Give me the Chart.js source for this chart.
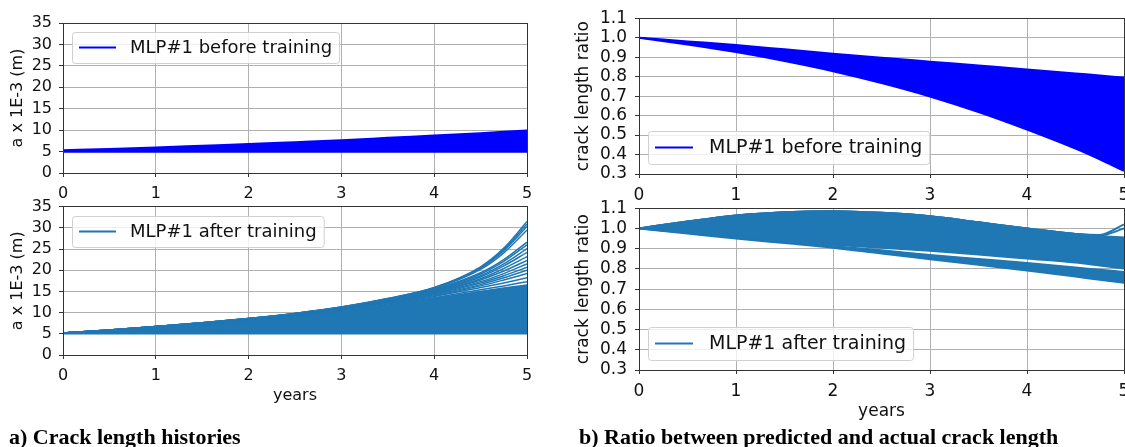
<!DOCTYPE html>
<html>
<head>
<meta charset="utf-8">
<script src="https://cdn.jsdelivr.net/npm/chart.js@4.4.1/dist/chart.umd.min.js"></script>
<style>
  html, body { margin:0; padding:0; background:#fff; width:1125px; height:447px; overflow:hidden; position:relative; }
  canvas { position:absolute; }
  .cap { position:absolute; font:bold 22px "Liberation Serif", "Times New Roman", serif; line-height:22px; white-space:nowrap; color:#000; }
</style>
</head>
<body>
<canvas id="lt" width="545" height="210" style="left:0;top:0"></canvas>
<canvas id="lb" width="545" height="230" style="left:0;top:190px"></canvas>
<canvas id="rt" width="575" height="210" style="left:565px;top:0"></canvas>
<canvas id="rb" width="575" height="240" style="left:565px;top:190px"></canvas>
<div class="cap" style="left:9px;top:426px">a) Crack length histories</div>
<div class="cap" style="left:579px;top:426px">b) Ratio between predicted and actual crack length</div>

<script>
// 時間軸と目盛
const years       = [0, 0.5, 1, 1.5, 2, 2.5, 3, 3.5, 4, 4.5, 4.75, 5];
const yearTicks   = [0, 1, 2, 3, 4, 5];
const lengthTicks = [0, 5, 10, 15, 20, 25, 30, 35];
const ratioTicks  = [0.3, 0.4, 0.5, 0.6, 0.7, 0.8, 0.9, 1.0, 1.1];

const BLUE = '#0000ff';
const TAB_BLUE = '#1f77b4';
const labelBefore = 'MLP#1 before training';
const labelAfter  = 'MLP#1 after training';

// a) crack length, before training (band edges)
const lenBeforeUpper = [5.3, 5.6, 5.95, 6.35, 6.75, 7.2, 7.65, 8.2, 8.75, 9.3, 9.6, 9.9];
const lenBeforeLower = [4.95, 4.95, 4.95, 4.95, 4.95, 4.95, 4.95, 4.95, 4.95, 4.95, 4.95, 4.95];

// a) crack length, after training
const lenAfterFillTop = [5.2, 5.7, 6.4, 7.2, 8.0, 9.0, 10.2, 11.6, 13.3, 15.0, 15.8, 16.5];
const lenAfterLower   = [5.1, 5.1, 5.1, 5.1, 5.1, 5.1, 5.1, 5.1, 5.1, 5.1, 5.1, 5.1];
const lenAfterCurves = [
  [5.2, 5.9, 6.7, 7.6, 8.6, 9.8, 11.3, 13.3, 15.9, 20.8, 25.2, 31.5],
  [5.2, 5.9, 6.7, 7.6, 8.6, 9.8, 11.3, 13.3, 15.85, 20.6, 24.9, 30.9],
  [5.2, 5.9, 6.7, 7.6, 8.6, 9.8, 11.3, 13.2, 15.8, 20.5, 24.6, 30.3],
  [5.2, 5.9, 6.7, 7.6, 8.6, 9.8, 11.2, 13.2, 15.7, 20.2, 24.1, 29.5],
  [5.2, 5.9, 6.7, 7.6, 8.6, 9.7, 11.2, 13.1, 15.5, 19.4, 22.5, 26.6],
  [5.2, 5.9, 6.7, 7.5, 8.5, 9.7, 11.1, 13.0, 15.3, 19.1, 22.1, 26.0],
  [5.2, 5.9, 6.7, 7.5, 8.5, 9.6, 11.0, 12.9, 15.15, 18.7, 21.5, 25.1],
  [5.2, 5.8, 6.6, 7.5, 8.5, 9.6, 11.0, 12.8, 15.0, 18.4, 21.0, 24.2],
  [5.2, 5.8, 6.6, 7.5, 8.4, 9.5, 10.9, 12.7, 14.85, 18.0, 20.4, 23.2],
  [5.2, 5.8, 6.6, 7.4, 8.4, 9.5, 10.9, 12.6, 14.7, 17.7, 19.8, 22.3],
  [5.2, 5.8, 6.6, 7.4, 8.3, 9.4, 10.8, 12.5, 14.55, 17.3, 19.2, 21.5],
  [5.2, 5.8, 6.6, 7.4, 8.3, 9.4, 10.7, 12.4, 14.4, 17.0, 18.7, 20.7],
  [5.2, 5.8, 6.5, 7.4, 8.3, 9.3, 10.7, 12.3, 14.2, 16.6, 18.2, 20.0],
  [5.2, 5.8, 6.5, 7.3, 8.2, 9.3, 10.6, 12.2, 14.0, 16.3, 17.7, 19.2],
  [5.2, 5.8, 6.5, 7.3, 8.1, 9.2, 10.4, 12.0, 13.8, 15.9, 17.0, 18.2],
  [5.2, 5.8, 6.5, 7.3, 8.1, 9.1, 10.3, 11.8, 13.5, 15.4, 16.3, 17.3],
  [5.2, 5.7, 6.4, 7.2, 8.0, 9.0, 10.2, 11.6, 13.2, 14.9, 15.6, 16.3],
  [5.2, 5.7, 6.4, 7.2, 8.0, 8.9, 10.1, 11.4, 12.9, 14.3, 14.9, 15.4],
  [5.2, 5.7, 6.4, 7.1, 7.9, 8.8, 9.9, 11.1, 12.4, 13.4, 13.8, 14.0]
];

// b) ratio, before training
const ratioBeforeUpper = [1.0, 0.981, 0.962, 0.94, 0.918, 0.897, 0.877, 0.857, 0.837, 0.816, 0.806, 0.795];
const ratioBeforeLower = [1.0, 0.965, 0.926, 0.88, 0.828, 0.767, 0.698, 0.618, 0.528, 0.43, 0.375, 0.316];

// b) ratio, after training
const ratioAfterTop      = [1.0, 1.034, 1.064, 1.08, 1.085, 1.077, 1.06, 1.03, 1.0, 0.973, 0.962, 0.955];
const ratioAfterMainLow  = [1.0, 0.978, 0.955, 0.936, 0.918, 0.903, 0.888, 0.870, 0.850, 0.830, 0.815, 0.80];
const ratioAfterSplitTop = [1.0, 0.977, 0.953, 0.933, 0.913, 0.893, 0.870, 0.850, 0.830, 0.808, 0.797, 0.786];
const ratioAfterLower    = [1.0, 0.975, 0.95, 0.928, 0.905, 0.876, 0.848, 0.820, 0.792, 0.762, 0.746, 0.731];
const ratioAfterHookA    = [1.0, 1.034, 1.064, 1.08, 1.085, 1.077, 1.06, 1.03, 1.0, 0.973, 0.968, 1.02];
const ratioAfterHookB    = [1.0, 1.034, 1.064, 1.08, 1.085, 1.077, 1.06, 1.03, 1.0, 0.972, 0.965, 1.0];

Chart.defaults.font.family = '"DejaVu Sans", sans-serif';
Chart.defaults.color = '#111';

const xy = vals => vals.map((v, i) => ({ x: years[i], y: v }));

function line(vals, color, width, fill) {
  return {
    data: xy(vals), borderColor: color, backgroundColor: color,
    borderWidth: width, fill: fill || false, pointRadius: 0,
    cubicInterpolationMode: 'monotone'
  };
}

// 枠線（上・右のスパイン）
const frame = {
  id: 'frame',
  afterDatasetsDraw(chart) {
    const { ctx, chartArea: a } = chart;
    const al = p => Math.round(p - 0.5) + 0.5;
    ctx.save();
    ctx.strokeStyle = '#333';
    ctx.lineWidth = 1;
    ctx.strokeRect(al(a.left), al(a.top), al(a.right) - al(a.left), al(a.bottom) - al(a.top));
    ctx.restore();
  }
};

// matplotlib風の凡例
const legendBox = {
  id: 'legendBox',
  afterDraw(chart, args, o) {
    const { ctx, chartArea: a } = chart;
    ctx.save();
    ctx.font = o.size + 'px "DejaVu Sans"';
    const tw = ctx.measureText(o.text).width;
    const w = 7 + o.handle + o.gap + tw + 7;
    const x = Math.round(a.left) + 9;
    const y = o.corner === 'upper' ? Math.round(a.top) + 9 : Math.round(a.bottom) - 10 - o.h;
    ctx.beginPath();
    ctx.roundRect(x + 0.5, y + 0.5, w, o.h, 3);
    ctx.fillStyle = 'rgba(255,255,255,0.8)';
    ctx.fill();
    ctx.strokeStyle = '#d0d0d0';
    ctx.lineWidth = 1;
    ctx.stroke();
    const cy = y + o.h / 2;
    ctx.beginPath();
    ctx.moveTo(x + 7, cy);
    ctx.lineTo(x + 7 + o.handle, cy);
    ctx.strokeStyle = o.color;
    ctx.lineWidth = 2;
    ctx.stroke();
    ctx.fillStyle = '#111';
    ctx.textBaseline = 'middle';
    ctx.fillText(o.text, x + 7 + o.handle + o.gap, cy + 1);
    ctx.restore();
  }
};

function makeChart(id, datasets, cfg) {
  const fs = cfg.fs;
  return new Chart(document.getElementById(id), {
    type: 'line',
    data: { datasets },
    plugins: [frame, legendBox],
    options: {
      responsive: false,
      animation: false,
      events: [],
      layout: { padding: cfg.pad },
      plugins: {
        legend: { display: false },
        tooltip: { enabled: false },
        legendBox: cfg.legend
      },
      scales: {
        x: {
          type: 'linear', min: 0, max: 5,
          afterBuildTicks: s => { s.ticks = yearTicks.map(v => ({ value: v })); },
          afterFit: s => { s.height = cfg.xh; },
          ticks: { padding: 7, font: { size: fs }, maxRotation: 0, autoSkip: false, callback: v => String(v) },
          grid: { color: '#b0b0b0', lineWidth: 1, tickColor: '#333', tickLength: 4 },
          border: { color: '#333', width: 1 },
          title: { display: cfg.xTitle, text: 'years', font: { size: fs }, color: '#111', padding: { top: 0, bottom: 0 } }
        },
        y: {
          type: 'linear', min: cfg.ymin, max: cfg.ymax,
          afterBuildTicks: s => { s.ticks = cfg.yticks.map(v => ({ value: v })); },
          afterFit: s => { s.width = cfg.yw; },
          ticks: { padding: cfg.ypad, font: { size: fs }, autoSkip: false, callback: cfg.fmt },
          grid: { color: '#b0b0b0', lineWidth: 1, tickColor: '#333', tickLength: 4 },
          border: { color: '#333', width: 1 },
          title: { display: true, text: cfg.ytitle, font: { size: fs }, color: '#111', padding: { top: 8, bottom: 0 } }
        }
      }
    }
  });
}

// a) 上段: 学習前
makeChart('lt', [
  line(lenBeforeUpper, BLUE, 2),
  line(lenBeforeLower, BLUE, 2, '-1')
], {
  fs: 16, pad: { left: 0, top: 23, right: 18, bottom: 10 }, xh: 27, yw: 63, ypad: 7, xTitle: false,
  ymin: 0, ymax: 35, yticks: lengthTicks, fmt: v => String(v), ytitle: 'a x 1E-3 (m)',
  legend: { text: labelBefore, color: BLUE, size: 18, handle: 37, gap: 14, h: 31, corner: 'upper' }
});

// a) 下段: 学習後
makeChart('lb', [
  line(lenAfterFillTop, TAB_BLUE, 1.5),
  line(lenAfterLower, TAB_BLUE, 2, '-1'),
  ...lenAfterCurves.map(c => line(c, TAB_BLUE, 1.5))
], {
  fs: 16, pad: { left: 0, top: 14, right: 18, bottom: 15 }, xh: 50, yw: 63, ypad: 7, xTitle: true,
  ymin: 0, ymax: 35, yticks: lengthTicks, fmt: v => String(v), ytitle: 'a x 1E-3 (m)',
  legend: { text: labelAfter, color: TAB_BLUE, size: 18, handle: 37, gap: 14, h: 31, corner: 'upper' }
});

// b) 上段: 学習前
makeChart('rt', [
  line(ratioBeforeUpper, BLUE, 2),
  line(ratioBeforeLower, BLUE, 2, '-1')
], {
  fs: 17, pad: { left: 0, top: 9, right: 16, bottom: 10 }, xh: 26, yw: 74, ypad: 8, xTitle: false,
  ymin: 0.3, ymax: 1.1, yticks: ratioTicks, fmt: v => v.toFixed(1), ytitle: 'crack length ratio',
  legend: { text: labelBefore, color: BLUE, size: 19, handle: 38, gap: 16, h: 33, corner: 'lower' }
});

// b) 下段: 学習後
makeChart('rb', [
  line(ratioAfterTop, TAB_BLUE, 2),
  line(ratioAfterMainLow, TAB_BLUE, 1.5, '-1'),
  line(ratioAfterSplitTop, TAB_BLUE, 1.5),
  line(ratioAfterLower, TAB_BLUE, 2, '-1'),
  line(ratioAfterHookA, TAB_BLUE, 2),
  line(ratioAfterHookB, TAB_BLUE, 2)
], {
  fs: 17, pad: { left: 0, top: 15, right: 16, bottom: 8 }, xh: 52, yw: 74, ypad: 8, xTitle: true,
  ymin: 0.3, ymax: 1.1, yticks: ratioTicks, fmt: v => v.toFixed(1), ytitle: 'crack length ratio',
  legend: { text: labelAfter, color: TAB_BLUE, size: 19, handle: 38, gap: 16, h: 33, corner: 'lower' }
});
</script>
</body>
</html>
